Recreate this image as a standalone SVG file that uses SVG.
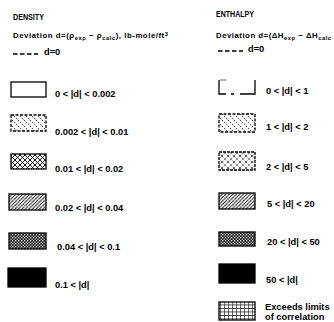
<svg xmlns="http://www.w3.org/2000/svg" width="334" height="322" viewBox="0 0 334 322">
<style>
text{font-family:"Liberation Sans",Arial,sans-serif;fill:#000}
.h{font-size:8.5px;font-weight:bold}
.dev{font-size:7.8px;font-weight:bold}
.sub{font-size:5.8px}
.lab{font-size:9.3px;font-weight:bold}
.box{stroke:#000;stroke-width:1.3}
.dash{stroke:#000;stroke-width:1.5;stroke-dasharray:4.5,2.5;fill:none}
</style>
<defs>
<pattern id="pSparse" width="6" height="6" patternUnits="userSpaceOnUse">
<rect width="6" height="6" fill="#fff"/>
<path d="M0,0 L6,6" stroke="#000" stroke-width="0.8" stroke-dasharray="1.5,1.5"/>
</pattern>
<pattern id="pCross" width="5" height="5" patternUnits="userSpaceOnUse">
<rect width="5" height="5" fill="#fff"/>
<path d="M0,0 L5,5 M5,0 L0,5" stroke="#000" stroke-width="0.9"/>
</pattern>
<pattern id="pDotCross" width="6" height="6" patternUnits="userSpaceOnUse">
<rect width="6" height="6" fill="#fff"/>
<path d="M0,0 L6,6 M6,0 L0,6" stroke="#000" stroke-width="0.9" stroke-dasharray="1,1.5"/>
</pattern>
<pattern id="pHatch" width="3.5" height="3.5" patternUnits="userSpaceOnUse">
<rect width="3.5" height="3.5" fill="#fff"/>
<path d="M-1,4.5 L4.5,-1" stroke="#000" stroke-width="0.9"/>
</pattern>
<pattern id="pCheck" width="3" height="3" patternUnits="userSpaceOnUse">
<rect width="3" height="3" fill="#000"/>
<rect x="0" y="0" width="1.3" height="1.3" fill="#fff"/>
<rect x="1.5" y="1.5" width="1.3" height="1.3" fill="#fff"/>
</pattern>
<pattern id="pGrid" width="4" height="3.5" patternUnits="userSpaceOnUse">
<rect width="4" height="3.5" fill="#fff"/>
<path d="M0,0 H4 M0,0 V3.5" stroke="#000" stroke-width="1.1"/>
</pattern>
</defs>

<g id="density-header">
<text class="h" x="13" y="20" textLength="31" lengthAdjust="spacingAndGlyphs">DENSITY</text>
<text class="dev" x="13" y="38" textLength="155" lengthAdjust="spacing">Deviation d=(ρ<tspan class="sub" dy="1.5">exp</tspan><tspan dy="-1.5"> − ρ</tspan><tspan class="sub" dy="1.5">calc</tspan><tspan dy="-1.5">), lb-mole/ft</tspan><tspan class="sub" dy="-2.5">3</tspan></text>
<line class="dash" x1="13" y1="54" x2="38" y2="54"/>
<text class="lab" x="44" y="55">d=0</text>
</g>

<g id="enthalpy-header">
<text class="h" x="216" y="17" textLength="38" lengthAdjust="spacingAndGlyphs">ENTHALPY</text>
<text class="dev" x="216" y="38" textLength="115" lengthAdjust="spacing">Deviation d=(ΔH<tspan class="sub" dy="1.5">exp</tspan><tspan dy="-1.5"> − ΔH</tspan><tspan class="sub" dy="1.5">calc</tspan></text>
<line class="dash" x1="218" y1="51" x2="243" y2="51"/>
<text class="lab" x="248" y="52">d=0</text>
</g>

<g id="d1"><rect class="box" x="11" y="82" width="35" height="15" fill="#fff"/><text class="lab" x="55" y="97">0 &lt; |d| &lt; 0.002</text></g>
<g id="d2"><rect class="box" x="11" y="115" width="35" height="16" fill="url(#pSparse)" stroke-dasharray="3,1.5"/><text class="lab" x="55" y="135">0.002 &lt; |d| &lt; 0.01</text></g>
<g id="d3"><rect class="box" x="11" y="154" width="35" height="15" fill="url(#pCross)"/><text class="lab" x="55" y="172">0.01 &lt; |d| &lt; 0.02</text></g>
<g id="d4"><rect class="box" x="9" y="194" width="37" height="16" fill="url(#pHatch)"/><text class="lab" x="55" y="211">0.02 &lt; |d| &lt; 0.04</text></g>
<g id="d5"><rect class="box" x="9" y="233" width="37" height="16" fill="url(#pCheck)"/><text class="lab" x="57" y="250">0.04 &lt; |d| &lt; 0.1</text></g>
<g id="d6"><rect class="box" x="8" y="268" width="38" height="19" fill="#000"/><text class="lab" x="55" y="288">0.1 &lt; |d|</text></g>

<g id="e1"><path d="M219,80 V94 H226 M231,94 H234 M240,94 H255 V80" fill="none" stroke="#000" stroke-width="1.3"/><path d="M220,80 H226" stroke="#000" stroke-width="0.6"/><text class="lab" x="266" y="94">0 &lt; |d| &lt; 1</text></g>
<g id="e2"><rect class="box" x="219" y="114" width="36" height="18" fill="url(#pSparse)" stroke-dasharray="3,1.5"/><text class="lab" x="266" y="130">1 &lt; |d| &lt; 2</text></g>
<g id="e3"><rect class="box" x="219" y="152" width="36" height="18" fill="url(#pDotCross)" stroke-dasharray="3,1"/><text class="lab" x="266" y="170">2 &lt; |d| &lt; 5</text></g>
<g id="e4"><rect class="box" x="219" y="193" width="36" height="16" fill="url(#pHatch)"/><text class="lab" x="267" y="207">5 &lt; |d| &lt; 20</text></g>
<g id="e5"><rect class="box" x="219" y="232" width="36" height="14" fill="url(#pCheck)"/><text class="lab" x="267" y="245">20 &lt; |d| &lt; 50</text></g>
<g id="e6"><rect class="box" x="219" y="264" width="36" height="19" fill="#000"/><text class="lab" x="266" y="283">50 &lt; |d|</text></g>
<g id="e7"><rect class="box" x="219" y="302" width="36" height="18" fill="url(#pGrid)"/><text class="lab" x="265" y="310">Exceeds limits</text><text class="lab" x="265" y="320">of correlation</text></g>
</svg>
